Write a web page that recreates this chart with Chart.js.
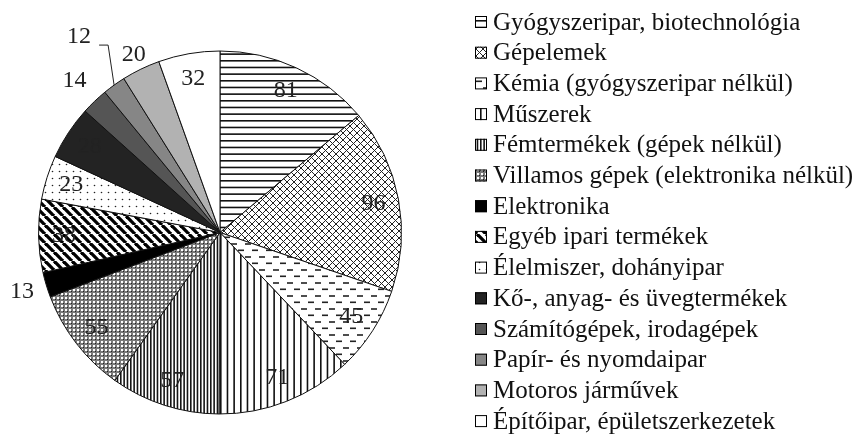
<!DOCTYPE html>
<html>
<head>
<meta charset="utf-8">
<script src="https://cdn.jsdelivr.net/npm/chart.js@4/dist/chart.umd.min.js"></script>
<style>
    html, body { margin: 0; padding: 0; background: #fff; }
</style>
</head>
<body>
<canvas id="myChart" width="857" height="434"></canvas>
<script>
const categories = [
    'Gyógyszeripar, biotechnológia',
    'Gépelemek',
    'Kémia (gyógyszeripar nélkül)',
    'Műszerek',
    'Fémtermékek (gépek nélkül)',
    'Villamos gépek (elektronika nélkül)',
    'Elektronika',
    'Egyéb ipari termékek',
    'Élelmiszer, dohányipar',
    'Kő-, anyag- és üvegtermékek',
    'Számítógépek, irodagépek',
    'Papír- és nyomdaipar',
    'Motoros járművek',
    'Építőipar, épületszerkezetek'
];
const values = [81, 96, 45, 71, 57, 55, 13, 38, 23, 28, 14, 12, 20, 32];
// kitöltés: minta neve vagy szín
const fills = ['hlines', 'crosshatch', 'dashes', 'vlines', 'vlinesDense', 'grid', '#000000',
    'stripes', 'dots', '#232323', '#555555', '#868686', '#b2b2b2', '#ffffff'];

function makePattern(type) {
    const c = document.createElement('canvas');
    const g = c.getContext('2d');
    const tile = (w, h, bg) => {
        c.width = w; c.height = h;
        g.fillStyle = bg; g.fillRect(0, 0, w, h);
    };
    switch (type) {
        case 'hlines':
            tile(20, 20, '#fff');
            g.fillStyle = '#111';
            [0, 6.67, 13.33].forEach(y => g.fillRect(0, y, 20, 1.6));
            break;
        case 'crosshatch':
            tile(7, 7, '#fff');
            g.strokeStyle = '#222'; g.lineWidth = 1;
            [-7, 0, 7].forEach(o => {
                g.beginPath(); g.moveTo(o, 0); g.lineTo(o + 7, 7); g.stroke();
                g.beginPath(); g.moveTo(o + 7, 0); g.lineTo(o, 7); g.stroke();
            });
            break;
        case 'dashes':
            tile(14, 13.4, '#fff');
            g.fillStyle = '#222';
            g.fillRect(0, 2.5, 6, 1.6);
            g.fillRect(7, 9.2, 6, 1.6);
            break;
        case 'vlines':
            tile(20, 20, '#fff');
            g.fillStyle = '#111';
            [0, 6.67, 13.33].forEach(x => g.fillRect(x, 0, 1.6, 20));
            break;
        case 'vlinesDense':
            tile(10, 10, '#fff');
            g.fillStyle = '#151515';
            [0, 3.33, 6.67].forEach(x => g.fillRect(x, 0, 1.6, 10));
            break;
        case 'grid':
            tile(4, 4, '#7a7a7a');
            g.fillStyle = '#fff'; g.fillRect(1, 1, 2, 2);
            g.fillStyle = '#222'; g.fillRect(3, 3, 1, 1);
            break;
        case 'stripes':
            tile(9, 9, '#fff');
            g.strokeStyle = '#000'; g.lineWidth = 3.3;
            [-9, 0, 9].forEach(o => {
                g.beginPath(); g.moveTo(o, 0); g.lineTo(o + 9, 9); g.stroke();
            });
            break;
        case 'dots':
            tile(7, 7, '#fff');
            g.fillStyle = '#222';
            g.beginPath(); g.arc(3.5, 3.5, 0.8, 0, Math.PI * 2); g.fill();
            break;
        default:
            return type;
    }
    return document.getElementById('myChart').getContext('2d').createPattern(c, 'repeat');
}

// értékcímkék a szeletekre
const sliceLabels = {
    id: 'sliceLabels',
    afterDatasetsDraw(chart, args, opts) {
        const ctx = chart.ctx;
        const meta = chart.getDatasetMeta(0);
        ctx.save();
        ctx.font = '24px "Liberation Serif"';
        ctx.fillStyle = '#222';
        ctx.strokeStyle = '#222';
        ctx.lineWidth = 1;
        meta.data.forEach((arc, i) => {
            const { x, y, startAngle, endAngle, outerRadius } = arc.getProps(['x', 'y', 'startAngle', 'endAngle', 'outerRadius'], true);
            const mid = (startAngle + endAngle) / 2;
            const text = String(values[i]);
            if (i === opts.leader) {
                const ex = x + Math.cos(mid) * outerRadius;
                const ey = y + Math.sin(mid) * outerRadius;
                const kx = ex - 6, ky = ey - 40;
                ctx.beginPath();
                ctx.moveTo(ex, ey); ctx.lineTo(kx, ky); ctx.lineTo(kx - 9, ky);
                ctx.stroke();
                ctx.textAlign = 'right';
                ctx.textBaseline = 'alphabetic';
                ctx.fillText(text, kx - 17, ky - 2);
                return;
            }
            const f = opts.outside[i] || 0.86;
            ctx.textAlign = 'center';
            ctx.textBaseline = 'middle';
            ctx.fillText(text, x + Math.cos(mid) * outerRadius * f, y + Math.sin(mid) * outerRadius * f);
        });
        ctx.restore();
    }
};

// jelmagyarázat jobb oldalon
const sideLegend = {
    id: 'sideLegend',
    afterDraw(chart, args, opts) {
        const ctx = chart.ctx;
        const ds = chart.data.datasets[0];
        ctx.save();
        ctx.font = '25px "Liberation Serif"';
        ctx.textBaseline = 'middle';
        ctx.textAlign = 'left';
        chart.data.labels.forEach((label, i) => {
            const y = opts.top + i * opts.rowHeight;
            ctx.fillStyle = ds.backgroundColor[i];
            ctx.fillRect(opts.left, y - 6, 12, 12);
            ctx.strokeStyle = '#000';
            ctx.lineWidth = 1;
            ctx.strokeRect(opts.left + 0.5, y - 5.5, 11, 11);
            ctx.fillStyle = '#111';
            ctx.fillText(label, opts.left + 18, y + 1);
        });
        ctx.restore();
    }
};

new Chart(document.getElementById('myChart'), {
    type: 'pie',
    data: {
        labels: categories,
        datasets: [{
            data: values,
            backgroundColor: fills.map(makePattern),
            borderColor: '#111',
            borderWidth: 1
        }]
    },
    options: {
        responsive: false,
        animation: false,
        layout: { padding: { left: 38, top: 50, right: 455, bottom: 19 } },
        plugins: {
            legend: { display: false },
            tooltip: { enabled: false },
            sliceLabels: { outside: { 6: 1.14, 10: 1.16, 12: 1.09 }, leader: 11 },
            sideLegend: { left: 475, top: 22, rowHeight: 30.7 }
        }
    },
    plugins: [sliceLabels, sideLegend]
});
</script>
</body>
</html>
